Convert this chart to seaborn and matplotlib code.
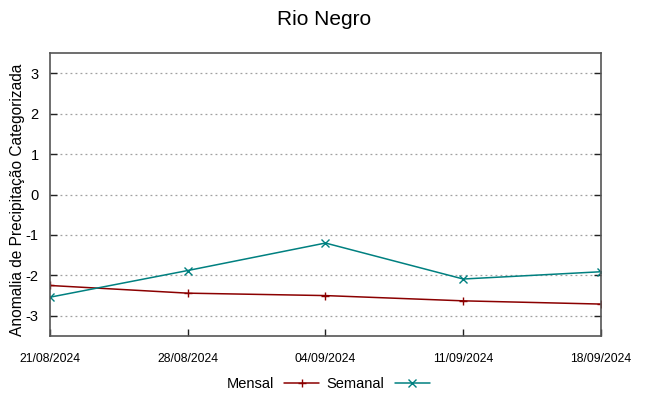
import matplotlib
matplotlib.use("Agg")
import matplotlib.pyplot as plt
import seaborn as sns
import pandas as pd

dates = ["21/08/2024", "28/08/2024", "04/09/2024", "11/09/2024", "18/09/2024"]
mensal = [-2.25, -2.44, -2.50, -2.63, -2.71]
semanal = [-2.54, -1.88, -1.20, -2.09, -1.91]
yticks = [3, 2, 1, 0, -1, -2, -3]

sns.set_style("white")
plt.rcParams["font.family"] = ["Liberation Sans", "DejaVu Sans"]
plt.rcParams["text.color"] = "black"
plt.rcParams["axes.labelcolor"] = "black"
plt.rcParams["xtick.color"] = "black"
plt.rcParams["ytick.color"] = "black"

x = pd.to_datetime(dates, format="%d/%m/%Y")

fig = plt.figure(figsize=(6.49, 3.96), dpi=100)
ax = fig.add_axes([0.077, 0.1515, 0.849, 0.7145])

palette = {"Mensal": "#8b0000", "Semanal": "#008080"}
for name, vals, mk in [("Mensal", mensal, "+"), ("Semanal", semanal, "x")]:
    sns.lineplot(x=x, y=vals, ax=ax, color=palette[name], marker=mk,
                 markersize=6, markeredgewidth=1.0, linewidth=1.1,
                 label=name, markeredgecolor=palette[name])

ax.set_xlim(x[0], x[-1])
ax.set_ylim(-3.5, 3.5)
ax.set_xticks(x)
ax.set_xticklabels(dates, fontsize=8.8)
ax.set_yticks(yticks)
ax.set_yticklabels([str(v) for v in yticks], fontsize=10.5)
ax.set_xlabel("")
ax.set_ylabel("Anomalia de Precipitação Categorizada", fontsize=11.2)
ax.yaxis.set_label_coords(-0.046, 0.48)
ax.yaxis.grid(True, linestyle=(0, (1.5, 2.5)), color="#a0a0a0", linewidth=0.9)
ax.xaxis.grid(False)
ax.tick_params(axis="y", direction="in", length=5, right=True, left=True,
               color="#222222", width=1.0, pad=8)
ax.tick_params(axis="x", direction="in", length=5, bottom=True, top=False,
               color="#222222", width=1.0, pad=12)
for s in ax.spines.values():
    s.set_color("#555555")
    s.set_linewidth(1.2)

fig.suptitle("Rio Negro", fontsize=15, y=0.975)
ax.legend(loc="upper center", bbox_to_anchor=(0.505, -0.1), ncol=2,
          frameon=False, markerfirst=False, fontsize=10.5, handlelength=2.4,
          columnspacing=0.5, handletextpad=0.7)

fig.savefig("out.png", dpi=100)
